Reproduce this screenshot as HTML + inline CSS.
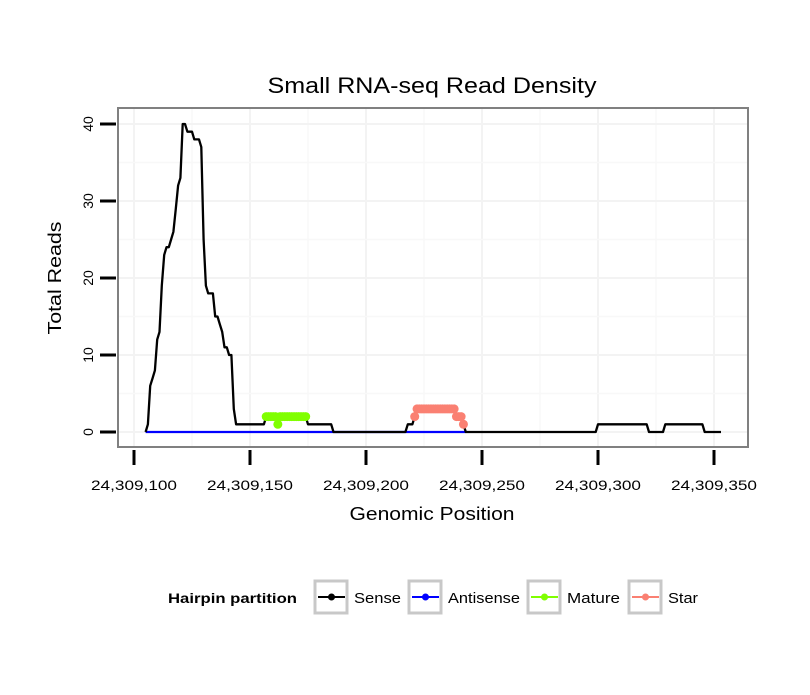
<!DOCTYPE html>
<html><head><meta charset="utf-8"><style>
body{margin:0;background:#fff;font-family:"Liberation Sans",sans-serif}
</style></head><body>
<svg id="c" width="810" height="690" xmlns="http://www.w3.org/2000/svg" style="font-family:'Liberation Sans',sans-serif">
<rect width="810" height="690" fill="#fff"/>
<text x="432" y="93" font-size="22" text-anchor="middle" textLength="329" lengthAdjust="spacingAndGlyphs">Small RNA-seq Read Density</text>
<text x="0" y="0" font-size="18" text-anchor="middle" textLength="113" lengthAdjust="spacingAndGlyphs" transform="translate(61,278) rotate(-90)">Total Reads</text>
<text x="432" y="520" font-size="18" text-anchor="middle" textLength="165" lengthAdjust="spacingAndGlyphs">Genomic Position</text>
<g id="grid"></g>
<g id="axes"></g>
<g id="marks"></g>
<rect x="118" y="108" width="630" height="339" fill="none" stroke="#808080" stroke-width="2"/>
<g id="legend"></g>
</svg>
<script>
const xTicks=[24309100,24309150,24309200,24309250,24309300,24309350];
const yTicks=[0,10,20,30,40];
const senseStart=24309105;
const senseValues=[0,1,6,7,8,12,13,19,23,24,24,25,26,29,32,33,40,40,39,39,39,38,38,38,37,25,19,18,18,18,15,15,14,13,11,11,10,10,3,1,
1,1,1,1,1,1,1,1,1,1,1,1,
2,2,2,2,2,2,2,2,2,2,2,2,2,2,2,2,2,2,
1,1,1,1,1,1,1,1,1,1,1,
0,0,0,0,0,0,0,0,0,0,0,0,0,0,0,0,0,0,0,0,0,0,0,0,0,0,0,0,0,0,0,0,
1,1,
1,2,3,3,3,3,3,3,3,3,3,3,3,3,3,3,3,3,3,2,2,2,1,
0,0,0,0,0,0,0,0,0,0,0,0,0,0,0,0,0,0,0,0,0,0,0,0,0,0,0,0,0,0,0,0,0,0,0,0,0,0,0,0,0,0,0,0,0,0,0,0,0,0,0,0,0,0,0,0,0,
1,1,1,1,1,1,1,1,1,1,1,1,1,1,1,1,1,1,1,1,1,1,
0,0,0,0,0,0,0,
1,1,1,1,1,1,1,1,1,1,1,1,1,1,1,1,1,
0,0,0,0,0,0,0,0];
const antisenseStart=24309105;
const antisenseValues=new Array(139).fill(0);
const matureStart=24309157;
const matureValues=[2,2,2,2,2,1,2,2,2,2,2,2,2,2,2,2,2,2];
const starStart=24309221;
const starValues=[2,3,3,3,3,3,3,3,3,3,3,3,3,3,3,3,3,3,2,2,2,1];
const fmt=v=>v.toLocaleString('en-US');
const X=p=>134+2.32*(p-24309100);
const Y=v=>432-7.7*v;
const NS='http://www.w3.org/2000/svg';
function mk(tag,attrs,parent){const e=document.createElementNS(NS,tag);for(const k in attrs)e.setAttribute(k,attrs[k]);parent.appendChild(e);return e;}
const grid=document.getElementById('grid'),axes=document.getElementById('axes'),marks=document.getElementById('marks'),legend=document.getElementById('legend');
mk('rect',{x:118,y:108,width:630,height:339,fill:'#fff'},grid);
for(let i=0;i<xTicks.length;i++){
 const x=X(xTicks[i]);
 if(x>118&&x<748){const l=mk('line',{x1:x,x2:x,y1:108,y2:447,stroke:'#f3f3f3','stroke-width':2},grid);}
 const xm=X(xTicks[i]+25);
 if(xm<748){const m=mk('line',{x1:xm,x2:xm,y1:108,y2:447,stroke:'#f8f8f8','stroke-width':1.5},grid);}
 const t=mk('line',{x1:x,x2:x,y1:450,y2:465,stroke:'#000','stroke-width':3},axes);
 
 
 const tx=mk('text',{x:x,y:490,'font-size':14,'text-anchor':'middle',textLength:86,lengthAdjust:'spacingAndGlyphs'},axes);tx.textContent=fmt(xTicks[i]);
 
 
}
for(let i=0;i<yTicks.length;i++){
 const y=Y(yTicks[i]);
 const l=mk('line',{x1:118,x2:748,y1:y,y2:y,stroke:'#f3f3f3','stroke-width':2},grid);
 
 
 const ym=Y(yTicks[i]+5);
 if(ym>108){const m=mk('line',{x1:118,x2:748,y1:ym,y2:ym,stroke:'#f8f8f8','stroke-width':1.5},grid);}
 const t=mk('line',{x1:100,x2:116,y1:y,y2:y,stroke:'#000','stroke-width':3},axes);
 
 
 const tx=mk('text',{x:0,y:0,'font-size':14,'text-anchor':'middle',transform:`translate(93,${y}) rotate(-90)`},axes);tx.textContent=yTicks[i];
 
 
}
function line(start,vals,color,name){
 const pts=vals.map((v,i)=>X(start+i).toFixed(1)+','+Y(v).toFixed(1)).join(' ');
 const p=mk('polyline',{points:pts,fill:'none',stroke:color,'stroke-width':2.3,'stroke-linejoin':'round'},marks);
 
 
}
function pts(start,vals,color,name){
 vals.forEach((v,i)=>{const c=mk('circle',{cx:X(start+i),cy:Y(v),r:4.5,fill:color},marks);
 
 });
}
line(antisenseStart,antisenseValues,'#0000ff','antisense-line');
line(senseStart,senseValues,'#000','sense-line');
line(matureStart,matureValues,'#80ff00','mature-line');
pts(matureStart,matureValues,'#80ff00','mature-point');
line(starStart,starValues,'#fa8072','star-line');
pts(starStart,starValues,'#fa8072','star-point');
const lt=mk('text',{x:168,y:603,'font-size':14,'font-weight':'bold',textLength:129,lengthAdjust:'spacingAndGlyphs'},legend);lt.textContent='Hairpin partition';


const legNames=['Sense','Antisense','Mature','Star'];
const legColors=['#000','#0000ff','#80ff00','#fa8072'];
const legX=[314,408,527,628];
const legW=[47,72,53,30];
legNames.forEach((n,i)=>{
 const g=mk('g',{},legend);
 
 
 mk('rect',{x:legX[i]+1,y:581,width:32,height:32,fill:'#fff',stroke:'#c8c8c8','stroke-width':3},g);
 mk('line',{x1:legX[i]+4,x2:legX[i]+31,y1:597,y2:597,stroke:legColors[i],'stroke-width':2},g);
 mk('circle',{cx:legX[i]+17.5,cy:597,r:3.5,fill:legColors[i]},g);
 const t=mk('text',{x:legX[i]+40,y:603,'font-size':15,textLength:legW[i],lengthAdjust:'spacingAndGlyphs'},g);t.textContent=n;
});
</script>
</body></html>
